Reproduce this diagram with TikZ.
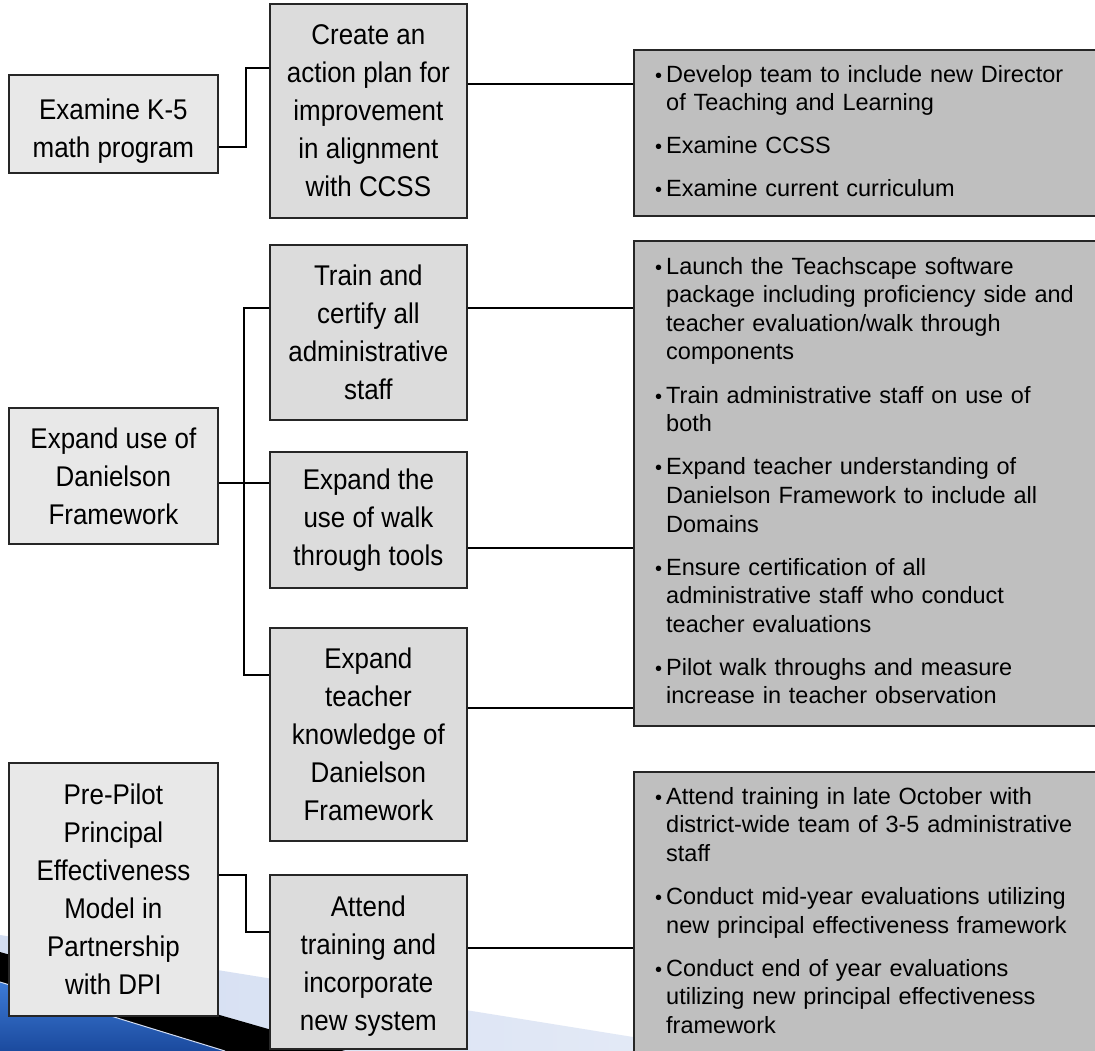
\documentclass[tikz,border=0pt]{standalone}
\usepackage{fontspec}
\setmainfont{Liberation Sans}
\newfontfamily\boxfont{Liberation Sans}[FakeStretch=0.91]
\definecolor{lightbox}{HTML}{E8E8E8}
\definecolor{midbox}{HTML}{DCDCDC}
\definecolor{bulletbox}{HTML}{BFBFBF}
\definecolor{swlight}{HTML}{D3DDF1}
\definecolor{swblueA}{HTML}{3D7BD6}
\definecolor{swblueB}{HTML}{1B4A9E}
\newcommand{\bul}{\leavevmode\llap{{\fontsize{20}{20}\selectfont\textbullet}\hspace{4pt}}\rule{0pt}{18pt}}
\begin{document}
\begin{tikzpicture}[x=1pt,y=-1pt,
  lbox/.style={draw=black!85, line width=1.8pt, fill=lightbox, anchor=north west, inner sep=2pt, align=center, font=\boxfont\fontsize{28.5}{38}\selectfont},
  mbox/.style={lbox, fill=midbox},
  bbox/.style={draw=black!85, line width=1.8pt, fill=bulletbox, anchor=north west, inner sep=0pt},
  btext/.style={anchor=north west, inner sep=0pt, text width=440pt, align=left, font=\fontsize{23.5}{28.6}\selectfont},
  conn/.style={draw=black, line width=1.8pt}]
\useasboundingbox (0,0) rectangle (1095,1051);
\clip (0,0) rectangle (1095,1051);
\fill[white] (0,0) rectangle (1095,1051);
% decorative swoosh
\shade[left color=swlight, right color=white!40!swlight] (0,935) -- (720,1051) -- (0,1051) -- cycle;
\fill[black] (0,952) -- (345,1051) -- (0,1051) -- cycle;
\shade[top color=swblueA, bottom color=swblueB] (0,982) -- (225,1051) -- (0,1051) -- cycle;
\draw[swlight, line width=1pt] (0,982) -- (225,1051);

% row 1
\node[lbox, minimum width=209pt, minimum height=98pt] (k5) at (8,74) {\rule{0pt}{36pt}Examine K-5\\math program};
\node[mbox, minimum width=197pt, minimum height=214pt] (plan) at (269,3) {Create an\\action plan for\\improvement\\in alignment\\with CCSS};
\node[bbox, minimum width=480pt, minimum height=166pt] (b1) at (633,49) {};
\node[btext] (t1) at ([xshift=33pt,yshift=-15pt]b1.north west) {\bul Develop team to include new Director\\of Teaching and Learning\\[14.5pt]\bul Examine CCSS\\[14.5pt]\bul Examine current curriculum};

% row 2
\node[lbox, minimum width=209pt, minimum height=136pt] (dan) at (8,407) {Expand use of\\Danielson\\Framework};
\node[mbox, minimum width=197pt, minimum height=175pt] (train) at (269,244) {Train and\\certify all\\administrative\\staff};
\node[mbox, minimum width=197pt, minimum height=136pt] (walk) at (269,451) {Expand the\\use of walk\\through tools};
\node[mbox, minimum width=197pt, minimum height=213pt] (teach) at (269,627) {Expand\\teacher\\knowledge of\\Danielson\\Framework};
\node[bbox, minimum width=480pt, minimum height=485pt] (b2) at (633,240) {};
\node[btext] (t2) at ([xshift=33pt,yshift=-16pt]b2.north west) {\bul Launch the Teachscape software\\package including proficiency side and\\teacher evaluation/walk through\\components\\[14.5pt]\bul Train administrative staff on use of\\both\\[14.5pt]\bul Expand teacher understanding of\\Danielson Framework to include all\\Domains\\[14.5pt]\bul Ensure certification of all\\administrative staff who conduct\\teacher evaluations\\[14.5pt]\bul Pilot walk throughs and measure\\increase in teacher observation};

% row 3
\node[lbox, minimum width=209pt, minimum height=253pt] (pre) at (8,762) {Pre-Pilot\\Principal\\Effectiveness\\Model in\\Partnership\\with DPI};
\node[mbox, minimum width=197pt, minimum height=174pt] (att) at (269,874) {\rule{0pt}{29pt}Attend\\training and\\incorporate\\new system};
\node[bbox, minimum width=480pt, minimum height=300pt] (b3) at (633,771) {};
\node[btext] (t3) at ([xshift=33pt,yshift=-15pt]b3.north west) {\bul Attend training in late October with\\district-wide team of 3-5 administrative\\staff\\[14.5pt]\bul Conduct mid-year evaluations utilizing\\new principal effectiveness framework\\[14.5pt]\bul Conduct end of year evaluations\\utilizing new principal effectiveness\\framework};

% connectors
\draw[conn] ([yshift=-23pt]k5.east) -- ++(27,0) |- ([yshift=43pt]plan.west);
\draw[conn] ([yshift=27pt]plan.east) -- ([yshift=27pt]plan.east -| b1.west);

\draw[conn] ([yshift=-7pt]dan.east) -- ([yshift=-7pt]dan.east -| walk.west);
\draw[conn] ([yshift=24.5pt]train.west) -- ++(-25,0) |- ([yshift=59.5pt]teach.west);
\draw[conn] ([yshift=24.5pt]train.east) -- ([yshift=24.5pt]train.east -| b2.west);
\draw[conn] ([yshift=-28pt]walk.east) -- ([yshift=-28pt]walk.east -| b2.west);
\draw[conn] ([yshift=26.5pt]teach.east) -- ([yshift=26.5pt]teach.east -| b2.west);

\draw[conn] ([yshift=14.5pt]pre.east) -- ++(27,0) |- ([yshift=30pt]att.west);
\draw[conn] ([yshift=14pt]att.east) -- ([yshift=14pt]att.east -| b3.west);
\end{tikzpicture}
\end{document}
